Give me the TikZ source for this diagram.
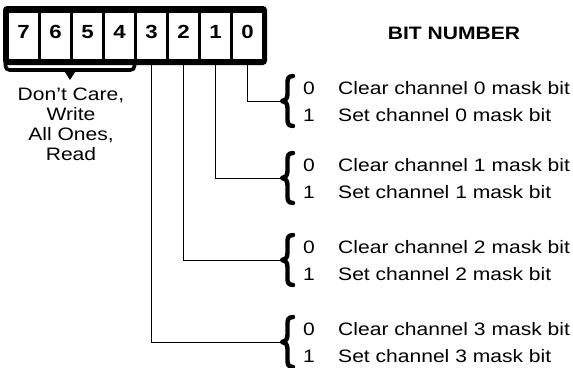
\documentclass[tikz,border=0pt]{standalone}
\usepackage{fontspec}
\setmainfont{Liberation Sans}[FakeStretch=1.17]
\usetikzlibrary{positioning}

\begin{document}
\begin{tikzpicture}[x=1pt, y=-1pt, node distance={32pt}, font=\fontsize{18}{20}\selectfont,
  cell/.style = {fill=white, minimum width=29pt, minimum height=46pt, inner sep=0pt, text height=12pt, text depth=7pt, font=\fontsize{19}{20}\selectfont\bfseries},
  curly/.style = {line width=4.4pt, line cap=round, line join=round},
  lbl/.style = {anchor=base west, inner sep=0pt}]

  \useasboundingbox (0,0) rectangle (573,367);
  \fill[rounded corners=4pt] (3,6) rectangle (267,65);

  \node[cell] (B7) at (23.5,36) {7};
  \foreach \i [evaluate=\i as \prev using {int(\i+1)}] in {6, ..., 0}
    \node[cell] (B\i) [right of=B\prev] {\i};

  \draw[line width=3.6pt, rounded corners=4pt] (5.5,62) |- (134.5,70) -- (134.5,62);
  \coordinate (DC) at (70,80);
  \fill (63,69) -- (77,69) -- (DC) -- cycle;
  \node[align=center, anchor=north, inner sep=0pt] (dontcare) at (71,88) {Don't Care,\\Write\\All Ones,\\Read};

  \node[anchor=base, inner sep=0pt, font=\fontsize{18}{20}\selectfont\bfseries] (title) at (454,39) {BIT NUMBER};

  \foreach \ch/\ty in {0/101, 1/178, 2/260, 3/342} {
    \coordinate (T\ch) at (282,\ty);
    \draw[curly] (293,\ty-25) .. controls (287,\ty-25) and (287.5,\ty-21) .. (287.5,\ty-16) -- (287.5,\ty-7)
      .. controls (287.5,\ty-2) and (285,\ty) .. (T\ch)
      .. controls (285,\ty) and (287.5,\ty+2) .. (287.5,\ty+7) -- (287.5,\ty+16)
      .. controls (287.5,\ty+21) and (287,\ty+25) .. (293,\ty+25);
    \draw[line width=0.8pt] (B\ch.south) |- (T\ch);
    \node[lbl] (Z\ch) at (303,\ty-7) {0};
    \node[lbl] (C\ch) at (338,\ty-7) {Clear channel \ch\ mask bit};
    \node[lbl] (O\ch) at (303,\ty+20) {1};
    \node[lbl] (S\ch) at (338,\ty+20) {Set channel \ch\ mask bit};
  }
\end{tikzpicture}
\end{document}
